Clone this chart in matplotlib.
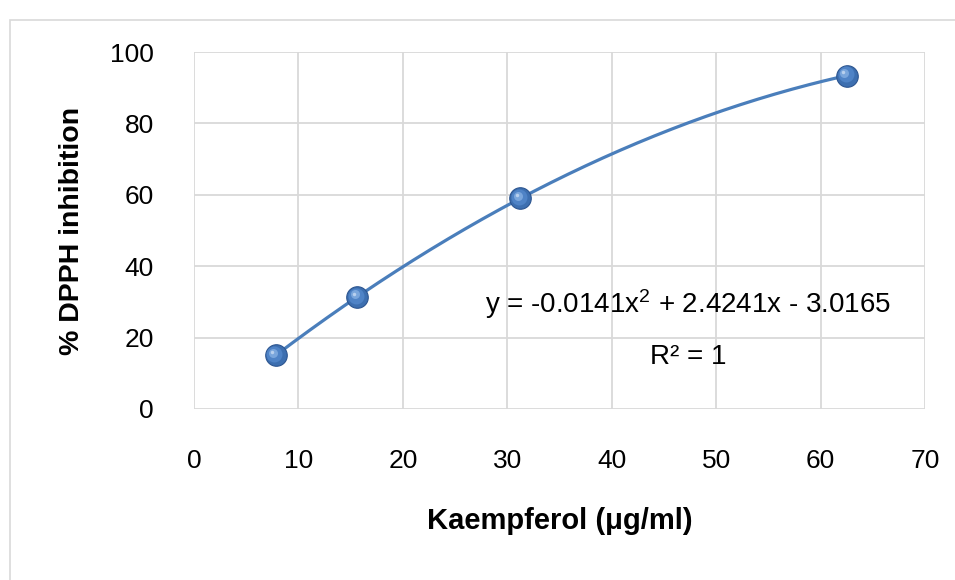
import numpy as np
import matplotlib
matplotlib.use('Agg')
import matplotlib.pyplot as plt
import matplotlib.patches as patches
import matplotlib.transforms as mtransforms

# data
conc = [7.8125, 15.625, 31.25, 62.5]
inhibition = [15.0, 31.4, 59.0, 93.4]
x_ticks = [0, 10, 20, 30, 40, 50, 60, 70]
y_ticks = [0, 20, 40, 60, 80, 100]
eq_text = 'y = -0.0141x$^2$ + 2.4241x - 3.0165'
r2_text = 'R² = 1'

plt.rcParams['font.family'] = ['Liberation Sans', 'DejaVu Sans']
plt.rcParams['mathtext.fontset'] = 'custom'
plt.rcParams['mathtext.rm'] = 'Liberation Sans'
plt.rcParams['mathtext.it'] = 'Liberation Sans'

fig = plt.figure(figsize=(9.55, 5.8), dpi=100)
ax = fig.add_axes([194/955, 1 - 409/580, (925-194)/955, (409-52)/580])

# outer chart border
fig.patches.append(patches.Rectangle((10/955, -0.1), 1.2, 1 - 20/580 + 0.1,
                                     transform=fig.transFigure, fill=False,
                                     edgecolor='#d9d9d9', lw=1.2))

line_c = '#4a7ebb'

# polynomial trendline through the points
coef = np.polyfit(conc, inhibition, 2)
xs = np.linspace(min(conc), max(conc), 200)
ax.plot(xs, np.polyval(coef, xs), color=line_c, lw=2.3, zorder=3, solid_capstyle='round')

# sphere-like markers
ax.plot(conc, inhibition, 'o', ms=15.5, mfc='#3d6fb0', mec='#2c5590', mew=0.8, zorder=4)
ax.plot(conc, inhibition, 'o', ms=11.5, mfc='#4f83c6', mec='none', zorder=5,
        transform=mtransforms.offset_copy(ax.transData, fig=fig, x=-0.8, y=0.8, units='points'))
ax.plot(conc, inhibition, 'o', ms=6.5, mfc='#7aa6dc', mec='none', zorder=6,
        transform=mtransforms.offset_copy(ax.transData, fig=fig, x=-1.8, y=1.8, units='points'))
ax.plot(conc, inhibition, 'o', ms=2.5, mfc='#b8d0ee', mec='none', zorder=7,
        transform=mtransforms.offset_copy(ax.transData, fig=fig, x=-2.4, y=2.4, units='points'))

ax.set_xlim(0, 70)
ax.set_ylim(0, 100)
ax.set_xticks(x_ticks)
ax.set_yticks(y_ticks)
ax.grid(True, color='#d9d9d9', lw=1.3)
ax.set_axisbelow(True)
for s in ax.spines.values():
    s.set_visible(False)
ax.tick_params(length=0, labelsize=19, colors='#000000')
ax.tick_params(axis='x', pad=29)
ax.tick_params(axis='y', pad=29)

ax.set_xlabel('Kaempferol (μg/ml)', fontsize=21, fontweight='bold', labelpad=24)
ax.set_ylabel('% DPPH inhibition', fontsize=20.5, fontweight='bold', labelpad=18)

ax.text(47.3, 29.5, eq_text, fontsize=20, ha='center', va='center')
ax.text(47.3, 14.5, r2_text, fontsize=20, ha='center', va='center')

fig.savefig('out.png', dpi=100)
